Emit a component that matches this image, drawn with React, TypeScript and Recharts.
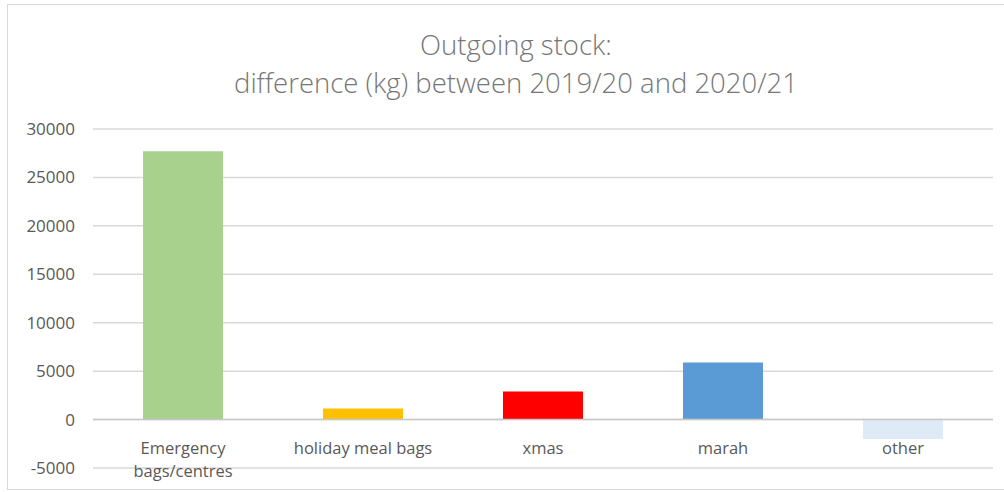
import { BarChart, Bar, XAxis, YAxis, CartesianGrid, ReferenceLine, Cell } from 'recharts'

const categories = ['Emergency bags/centres', 'holiday meal bags', 'xmas', 'marah', 'other']
const diffKg = [27700, 1150, 2900, 5900, -2000]
const barColors = ['#a9d18e', '#ffc000', '#ff0000', '#5b9bd5', '#deebf7']
const yTicks = [-5000, 0, 5000, 10000, 15000, 20000, 25000, 30000]

const data = categories.map((name, i) => ({ name, value: diffKg[i] }))

const font = '"Open Sans", "DejaVu Sans", sans-serif'

function CatTick({ x, y, payload }: any) {
  const label: string = payload.value
  const lines = label === 'Emergency bags/centres' ? ['Emergency', 'bags/centres'] : [label]
  return (
    <text x={x} y={y - 16} textAnchor="middle" fill="#595959" fontSize={16.5} fontFamily={font}>
      {lines.map((l, i) => (
        <tspan key={i} x={x} dy={i === 0 ? 0 : 23}>{l}</tspan>
      ))}
    </text>
  )
}

export default function App() {
  return (
    <div style={{ position: 'absolute', left: 0, top: 0, width: 1004, height: 492, background: '#fff', overflow: 'hidden' }}>
      <div style={{ position: 'absolute', left: 7, top: 4, width: 1010, height: 484, border: '1px solid #d9d9d9' }} />
      <div style={{ position: 'absolute', left: 0, top: 26, width: 1032, textAlign: 'center', color: '#767676', fontFamily: font, fontWeight: 300, fontSize: 27.5, lineHeight: '38px' }}>
        Outgoing stock:<br />difference (kg) between 2019/20 and 2020/21
      </div>
      <div style={{ position: 'absolute', left: 0, top: 0 }}>
        <BarChart width={1004} height={492} data={data} margin={{ top: 129, right: 11, bottom: 23, left: 0 }} barCategoryGap={50}>
          <CartesianGrid vertical={false} stroke="#d9d9d9" strokeWidth={1.5} />
          <XAxis dataKey="name" axisLine={false} tickLine={false} height={1} tickSize={0} tick={<CatTick />} interval={0} />
          <YAxis width={93} domain={[-5000, 30000]} ticks={yTicks} axisLine={false} tickLine={false} tickSize={0} tickMargin={18}
            tick={{ fill: '#595959', fontSize: 17, fontFamily: font }} />
          <ReferenceLine y={0} stroke="#c8c8c8" strokeWidth={1.5} />
          <Bar dataKey="value" isAnimationActive={false}>
            {data.map((d, i) => <Cell key={d.name} fill={barColors[i]} />)}
          </Bar>
        </BarChart>
      </div>
    </div>
  )
}
